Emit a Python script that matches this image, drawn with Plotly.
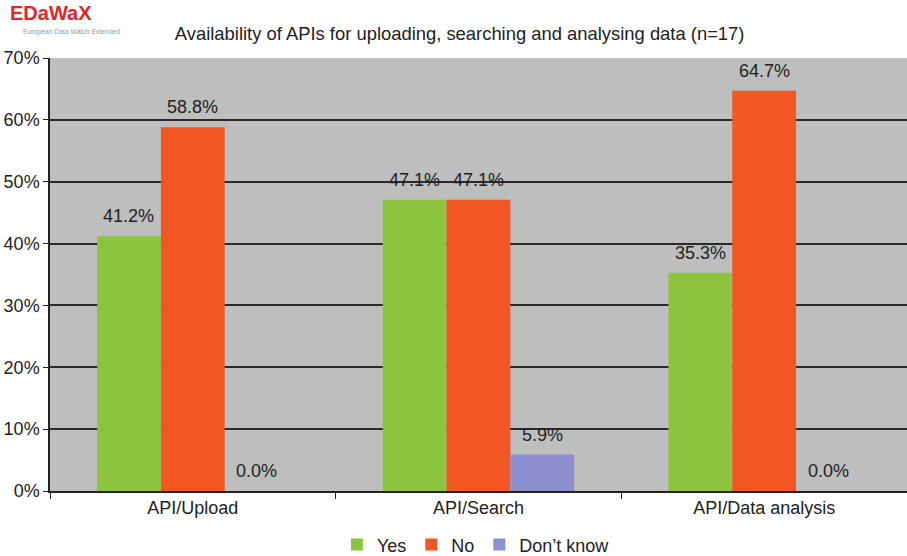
import plotly.graph_objects as go

categories = ["API/Upload", "API/Search", "API/Data analysis"]
series_names = ["Yes", "No", "Don\u2019t know"]
yes_vals = [41.2, 47.1, 35.3]
no_vals = [58.8, 47.1, 64.7]
dk_vals = [0.0, 5.9, 0.0]
colors = ["#8cc43f", "#f15623", "#8e8fd0"]
y_ticks = [0, 10, 20, 30, 40, 50, 60, 70]

font_family = "Liberation Sans, Arial, sans-serif"
bar_px = 64  # width of one bar in pixels (for label placement)

fig = go.Figure()
all_vals = [yes_vals, no_vals, dk_vals]
for name, vals, col in zip(series_names, all_vals, colors):
    fig.add_trace(go.Bar(
        x=categories, y=vals, name=name,
        marker=dict(color=col, line=dict(width=0)),
        cliponaxis=False,
    ))

# value labels, placed from the data a little above each bar
for i, vals in enumerate(all_vals):
    for cat, v in zip(categories, vals):
        fig.add_annotation(
            x=cat, y=v, xref="x", yref="y", text=f"{v:.1f}%",
            showarrow=False, xanchor="center", yanchor="bottom",
            xshift=(i - 1) * bar_px, yshift=8,
            font=dict(size=18, color="#222222", family=font_family),
        )

fig.update_layout(
    width=907, height=556,
    margin=dict(l=50, r=0, t=58, b=65, autoexpand=False),
    paper_bgcolor="white",
    plot_bgcolor="#bebebe",
    barmode="group",
    bargap=0.33,
    bargroupgap=0,
    font=dict(family=font_family, color="#222222"),
    title=dict(
        text="Availability of APIs for uploading, searching and analysing data (n=17)",
        x=0.478, xanchor="center", xref="paper", y=0.94, yanchor="middle", yref="container",
        font=dict(size=18.4, color="#222222"),
    ),
    legend=dict(
        orientation="h", x=0.497, xanchor="center", y=0.02, yanchor="middle", yref="container",
        font=dict(size=18), itemwidth=30, traceorder="normal",
    ),
    showlegend=True,
)

fig.update_yaxes(
    range=[0, 70], tickvals=y_ticks, ticktext=[f"{t}%" for t in y_ticks],
    showgrid=True, gridcolor="#2a2a2a", gridwidth=1.5,
    showline=True, linecolor="#222222", linewidth=1.5,
    ticks="outside", ticklen=5, tickcolor="#222222",
    tickfont=dict(size=18), zeroline=False, automargin=False,
)
fig.update_xaxes(
    showline=True, linecolor="#222222", linewidth=1.5,
    ticks="outside", ticklen=6, tickcolor="#222222", tickson="boundaries",
    tickfont=dict(size=18), showgrid=False, automargin=False,
)

fig.add_annotation(
    text="<b>EDaWaX</b>", xref="paper", yref="paper", x=-0.049, y=1.105,
    xanchor="left", yanchor="middle", showarrow=False,
    font=dict(size=20, color="#e3242b", family=font_family),
)
fig.add_annotation(
    text="European Data Watch Extended", xref="paper", yref="paper", x=-0.034, y=1.059,
    xanchor="left", yanchor="middle", showarrow=False,
    font=dict(size=6.8, color="#999999", family=font_family),
)

fig.write_html("out.html", config={"displayModeBar": False},
               post_script="document.body.style.margin='0px';")
